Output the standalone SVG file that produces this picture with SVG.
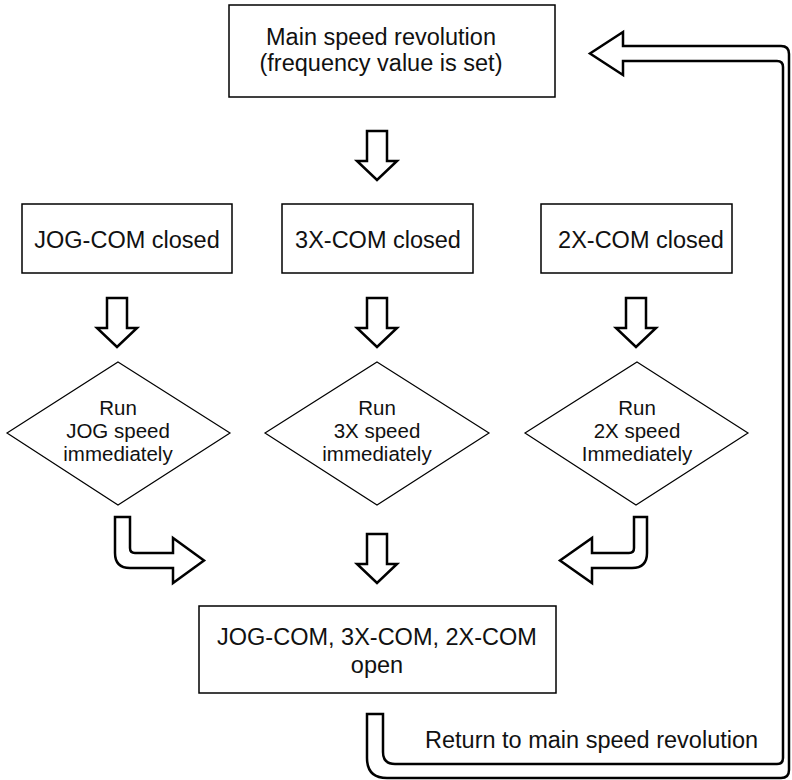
<svg xmlns="http://www.w3.org/2000/svg" width="792" height="780" viewBox="0 0 792 780">
<style>
.box{fill:#fff;stroke:#000;stroke-width:1.5}
.dia{fill:#fff;stroke:#000;stroke-width:1.2}
.arr{fill:#fff;stroke:#000;stroke-width:2.5;stroke-linejoin:miter}
.t{font-family:"Liberation Sans",Arial,sans-serif;font-size:23.5px;fill:#111;text-anchor:middle}
.d{font-family:"Liberation Sans",Arial,sans-serif;font-size:20.5px;fill:#111;text-anchor:middle}
.l{font-family:"Liberation Sans",Arial,sans-serif;font-size:23.5px;fill:#111}
</style>
<defs>
<path id="down" d="M-10,0 L10,0 L10,30 L20,30 L0,49 L-20,30 L-10,30 Z"/>
</defs>
<rect width="792" height="780" fill="#fff"/>

<g id="main">
<rect class="box" x="229" y="5" width="326" height="92"/>
<text class="t" x="381" y="45">Main speed revolution</text>
<text class="t" x="381" y="71">(frequency value is set)</text>
</g>

<g id="jogcom">
<rect class="box" x="22" y="204" width="210" height="69"/>
<text class="t" x="127" y="248">JOG-COM closed</text>
</g>
<g id="x3com">
<rect class="box" x="282" y="204" width="191" height="69"/>
<text class="t" x="378" y="248">3X-COM closed</text>
</g>
<g id="x2com">
<rect class="box" x="541" y="204" width="191" height="69"/>
<text class="t" x="641" y="248">2X-COM closed</text>
</g>

<g id="runjog">
<polygon class="dia" points="118,362 230,433 118,505 7,433"/>
<text class="d" x="118" y="415">Run</text>
<text class="d" x="118" y="438">JOG speed</text>
<text class="d" x="118" y="461">immediately</text>
</g>
<g id="run3x">
<polygon class="dia" points="377,362 489,433 377,505 265,433"/>
<text class="d" x="377" y="415">Run</text>
<text class="d" x="377" y="438">3X speed</text>
<text class="d" x="377" y="461">immediately</text>
</g>
<g id="run2x">
<polygon class="dia" points="637,362 748,433 636,505 525,433"/>
<text class="d" x="637" y="415">Run</text>
<text class="d" x="637" y="438">2X speed</text>
<text class="d" x="637" y="461">Immediately</text>
</g>

<g id="open">
<rect class="box" x="199" y="606" width="357" height="87"/>
<text class="t" x="377" y="645">JOG-COM, 3X-COM, 2X-COM</text>
<text class="t" x="377" y="673">open</text>
</g>

<g id="connectors">
<use href="#down" class="arr" x="377" y="131"/>
<use href="#down" class="arr" x="117" y="298"/>
<use href="#down" class="arr" x="377" y="298"/>
<use href="#down" class="arr" x="636" y="298"/>
<use href="#down" class="arr" x="377" y="534"/>
<path class="arr" d="M115,517 L130,517 L130,548 Q130,553 135,553 L173,553 L173,538 L204,560.5 L173,583 L173,568 L130,568 Q115,568 115,553 Z"/>
<path class="arr" d="M647,517 L634,517 L634,548 Q634,553 629,553 L592,553 L592,538 L560,560.5 L592,583 L592,568 L632,568 Q647,568 647,553 Z"/>
<path class="arr" d="M367,714 L383,714 L383,752 Q383,764 395,764 L777,764 Q783,764 783,758 L783,67 Q783,61 777,61 L623,61 L623,75 L590,53.5 L623,32 L623,46 L781,46 Q789,46 789,54 L789,770 Q789,778 781,778 L387,778 Q367,778 367,758 Z"/>
<text class="l" x="425" y="748">Return to main speed revolution</text>
</g>
</svg>
